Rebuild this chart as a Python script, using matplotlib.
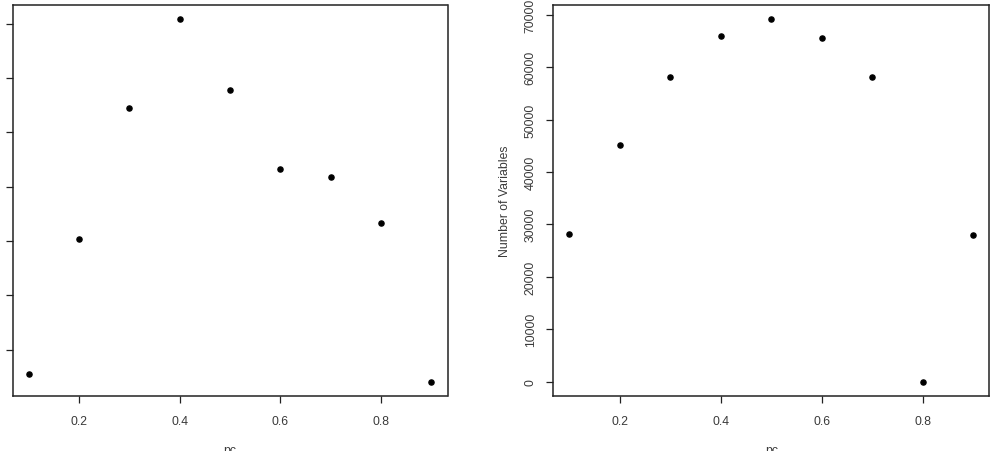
import numpy as np
import matplotlib
matplotlib.use("Agg")
import matplotlib.pyplot as plt

plt.rcParams['font.family'] = ['Liberation Sans', 'DejaVu Sans']

# data
pc = [0.1, 0.2, 0.3, 0.4, 0.5, 0.6, 0.7, 0.8, 0.9]
left_vals = [56.4, 304.3, 545.4, 707.9, 577.3, 432.6, 417.9, 332.5, 41.7]   # labels are cut off in the original
left_ticks = [100, 200, 300, 400, 500, 600, 700]
n_vars = [28170, 45150, 58120, 65940, 69100, 65610, 58170, 0, 27980]
right_ticks = [0, 10000, 20000, 30000, 40000, 50000, 60000, 70000]
x_ticks = [0.2, 0.4, 0.6, 0.8]

W, H = 999, 452
fig = plt.figure(figsize=(W / 100, H / 100), dpi=100)

txt = '#3a3a3a'


def rlim(v):  # R style 4% padding
    lo, hi = min(v), max(v)
    d = (hi - lo) * 0.04
    return lo - d, hi + d


def panel(x0, x1, yvals, yticks, ylabel=None):
    ax = fig.add_axes([x0 / W, (H - 397) / H, (x1 - x0) / W, 391 / H])
    ax.plot(pc, yvals, 'o', color='black', markersize=3.7)
    ax.set_xlim(rlim(pc))
    ax.set_ylim(rlim(yvals))
    ax.set_xticks(x_ticks)
    ax.set_xticklabels(['%.1f' % t for t in x_ticks])
    ax.set_yticks(yticks)
    ax.set_yticklabels([str(t) for t in yticks], rotation=90, va='center')
    ax.tick_params(length=5, width=0.9, colors='#222222', labelcolor=txt,
                   labelsize=8.8)
    ax.tick_params(axis='x', pad=9)
    ax.tick_params(axis='y', pad=7)
    for s in ax.spines.values():
        s.set_linewidth(1.1)
        s.set_color('#222222')
    # x label sits right at the bottom edge, as in the original
    ax.text(0.5, -0.122, 'pc', transform=ax.transAxes, ha='center', va='top',
            fontsize=8.8, color=txt)
    if ylabel:
        ax.set_ylabel(ylabel, fontsize=8.8, color=txt, labelpad=10)
    return ax


panel(12.5, 447.5, left_vals, left_ticks)
panel(553.3, 989.5, n_vars, right_ticks, 'Number of Variables')

fig.savefig('out.png', dpi=100)
